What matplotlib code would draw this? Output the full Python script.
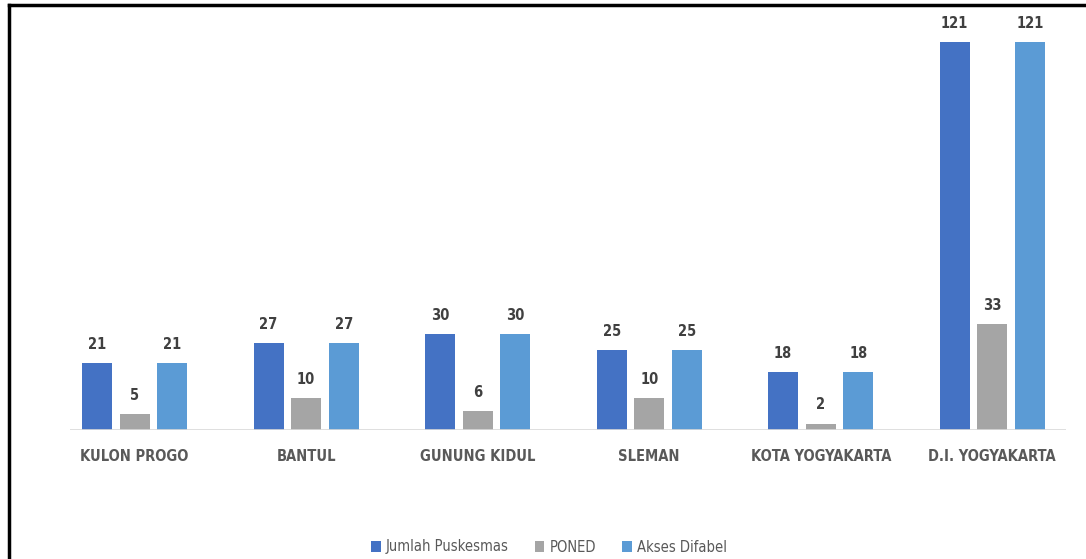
import numpy as np
import matplotlib.pyplot as plt
from matplotlib.lines import Line2D

plt.rcParams['font.family'] = ['DejaVu Sans']
plt.rcParams['font.stretch'] = 'condensed'

# data
kabupaten = ['KULON PROGO', 'BANTUL', 'GUNUNG KIDUL', 'SLEMAN',
             'KOTA YOGYAKARTA', 'D.I. YOGYAKARTA']
jumlah_puskesmas = [21, 27, 30, 25, 18, 121]
poned = [5, 10, 6, 10, 2, 33]
akses_difabel = [21, 27, 30, 25, 18, 121]

series = [('Jumlah Puskesmas', jumlah_puskesmas, '#4472C4'),
          ('PONED', poned, '#A5A5A5'),
          ('Akses Difabel', akses_difabel, '#5B9BD5')]

fig = plt.figure(figsize=(10.86, 5.59), dpi=100)
ax = fig.add_axes([70/1086, 1-430/559, 996/1086, 420/559])

x = np.arange(len(kabupaten))
width = 0.175
step = 0.219

for i, (name, vals, col) in enumerate(series):
    bars = ax.bar(x + (i-1)*step, vals, width, color=col, label=name, zorder=2)
    for b, v in zip(bars, vals):
        ax.annotate(str(v), (b.get_x() + b.get_width()/2, v),
                    xytext=(0, 8), textcoords='offset points',
                    ha='center', va='bottom', fontsize=10.5,
                    fontweight='bold', color='#404040')

ax.set_xlim(-0.377, 5.430)
ax.set_ylim(0, 131)
ax.axhline(0, color='#D9D9D9', lw=1.2, zorder=3)

for s in ax.spines.values():
    s.set_visible(False)
ax.set_yticks([])
ax.set_xticks(x)
ax.set_xticklabels(kabupaten, fontsize=10.5, fontweight='bold', color='#595959')
ax.tick_params(axis='x', length=0, pad=14)

leg = fig.legend(loc='center', bbox_to_anchor=(549/1086, 1-547/559), ncol=3,
                 frameon=False, fontsize=10.5, handlelength=0.65, handleheight=0.7,
                 handletextpad=0.35, columnspacing=1.8)
for t in leg.get_texts():
    t.set_color('#595959')

# outer frame (left and top only are visible)
fig.add_artist(Line2D([9/1086, 9/1086], [0, 1-5/559], color='black', lw=2.5))
fig.add_artist(Line2D([9/1086, 1], [1-5/559, 1-5/559], color='black', lw=2.5))

fig.savefig('out.png', dpi=100)
